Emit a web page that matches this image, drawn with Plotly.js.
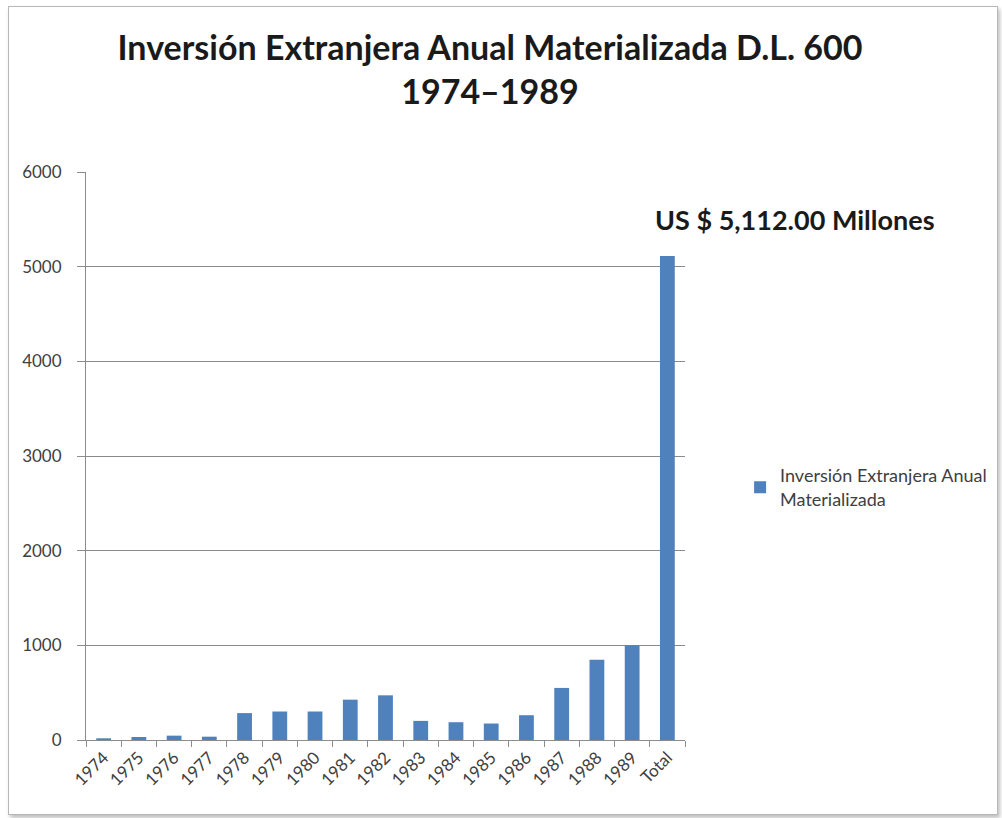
<!DOCTYPE html>
<html>
<head>
<meta charset="utf-8">
<script src="https://cdn.plot.ly/plotly-3.0.1.min.js"></script>
<style>
  html, body { margin: 0; padding: 0; background: #ffffff; }
  #wrap { position: relative; width: 1002px; height: 818px; overflow: hidden; }
  #frame { position: absolute; left: 8px; top: 6px; width: 988px; height: 807px;
           border: 1px solid #b8b8b8; box-shadow: 2px 3px 4px rgba(0,0,0,0.25); pointer-events: none; }
  #chart { position: absolute; left: 0; top: 0; width: 1002px; height: 818px; }
</style>
</head>
<body>
<div id="wrap">
  <div id="chart"></div>
  <div id="frame"></div>
</div>
<script>
const categories = ["1974","1975","1976","1977","1978","1979","1980","1981","1982","1983","1984","1985","1986","1987","1988","1989","Total"];
const values = [18, 32, 46, 35, 284, 301, 301, 426, 472, 202, 188, 174, 262, 550, 848, 1000, 5112];
const seriesName = "Inversión Extranjera Anual<br>Materializada";
const titleText = "Inversión Extranjera Anual Materializada D.L. 600<br>1974–1989";
const totalLabel = "US $ 5,112.00 Millones";
const yTicks = [0, 1000, 2000, 3000, 4000, 5000, 6000];

const trace = {
  type: "bar",
  x: categories,
  y: values,
  name: seriesName,
  marker: { color: "#4f81bd", line: { width: 0 } },
  hoverinfo: "x+y"
};

const layout = {
  width: 1002,
  height: 818,
  paper_bgcolor: "rgba(0,0,0,0)",
  plot_bgcolor: "#ffffff",
  margin: { l: 86, r: 317, t: 172, b: 78, autoexpand: false },
  font: { family: "Lato, 'Open Sans', sans-serif", color: "#404040" },
  title: {
    text: titleText,
    font: { family: "Lato, sans-serif", size: 34, color: "#1a1a1a", weight: "bold" },
    x: 0.489, xref: "container", xanchor: "center",
    y: 0.927, yref: "container", yanchor: "top"
  },
  bargap: 0.58,
  showlegend: true,
  legend: {
    x: 1.092, xanchor: "left", y: 0.445, yanchor: "middle",
    font: { size: 18, color: "#404040" },
    itemwidth: 30, tracegroupgap: 0
  },
  xaxis: {
    type: "category",
    tickangle: -45,
    tickfont: { size: 17, color: "#404040" },
    showline: true, linecolor: "#8c8c8c", linewidth: 1,
    ticks: "outside", tickson: "boundaries", ticklen: 6, tickcolor: "#8c8c8c",
    showgrid: false, fixedrange: true
  },
  yaxis: {
    range: [0, 6000],
    tickvals: yTicks,
    ticktext: yTicks.map(String),
    tickfont: { size: 17, color: "#404040" },
    showline: true, linecolor: "#8c8c8c", linewidth: 1,
    ticks: "outside", ticklen: 8, tickcolor: "#8c8c8c",
    ticklabelstandoff: 12,
    showgrid: true, gridcolor: "#8a8a8a", gridwidth: 1,
    zeroline: false, fixedrange: true
  },
  annotations: [{
    text: totalLabel,
    xref: "paper", yref: "paper",
    x: 1.183, y: 0.916, xanchor: "center", yanchor: "middle",
    showarrow: false,
    font: { family: "Lato, sans-serif", size: 27, color: "#1a1a1a", weight: "bold" }
  }]
};

Plotly.newPlot("chart", [trace], layout, { displayModeBar: false, staticPlot: true });
</script>
</body>
</html>
